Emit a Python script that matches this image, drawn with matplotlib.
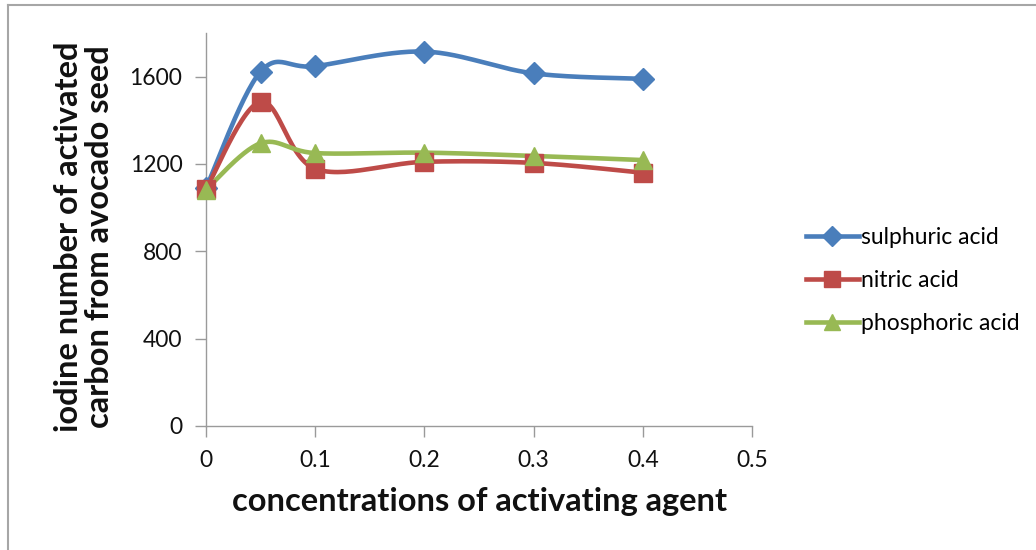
import numpy as np
import matplotlib
matplotlib.use("Agg")
import matplotlib.pyplot as plt
from matplotlib.lines import Line2D

# ---- data ----
concentration = [0, 0.05, 0.1, 0.2, 0.3, 0.4]
sulphuric = [1090, 1623, 1648, 1715, 1615, 1590]
nitric = [1085, 1485, 1178, 1210, 1205, 1160]
phosphoric = [1083, 1295, 1250, 1252, 1237, 1218]
series_names = ["sulphuric acid", "nitric acid", "phosphoric acid"]
x_ticks = [0, 0.1, 0.2, 0.3, 0.4, 0.5]
y_ticks = [0, 400, 800, 1200, 1600]
x_title = "concentrations of activating agent"
y_title = "iodine number of activated\ncarbon from avocado seed"

colors = ["#4A7EBB", "#BE4B48", "#98B954"]
markers = ["D", "s", "^"]
msizes = [11, 13, 13]

FONT = "Lato"
W, H = 1036, 550
fig = plt.figure(figsize=(W / 100, H / 100), dpi=100)
ax = fig.add_axes([206 / W, 1 - 426 / H, (752 - 206) / W, (426 - 33) / H])
ax.set_xlim(0, 0.5)
ax.set_ylim(0, 1800)


def smooth(xs, ys, xr=0.5, yr=1800, n=30):
    # Excel-like smoothed line (Catmull-Rom Bezier in normalized space)
    sx = 546.0 / xr
    sy = 393.0 / yr
    P = np.column_stack([np.asarray(xs) * sx, np.asarray(ys) * sy])
    out = [P[0]]
    m = len(P)
    t = np.linspace(0, 1, n)[1:, None]
    for i in range(m - 1):
        p0 = P[i - 1] if i > 0 else P[i]
        p1, p2 = P[i], P[i + 1]
        p3 = P[i + 2] if i + 2 < m else P[i + 1]
        c1 = p1 + (p2 - p0) / 6.0
        c2 = p2 - (p3 - p1) / 6.0
        seg = ((1 - t) ** 3) * p1 + 3 * ((1 - t) ** 2) * t * c1 + 3 * (1 - t) * t ** 2 * c2 + t ** 3 * p2
        out.extend(seg)
    out = np.array(out)
    return out[:, 0] / sx, out[:, 1] / sy


for ys, c, mk, ms in zip([sulphuric, nitric, phosphoric], colors, markers, msizes):
    sxv, syv = smooth(concentration, ys)
    ax.plot(sxv, syv, color=c, lw=3.3, solid_capstyle="round", zorder=2)
    ax.plot(concentration, ys, linestyle="none", marker=mk, color=c, ms=ms,
            markeredgecolor=c, zorder=3, clip_on=False)

ax.set_xticks(x_ticks)
ax.set_xticklabels([f"{v:g}" for v in x_ticks])
ax.set_yticks(y_ticks)
ax.set_yticklabels([str(v) for v in y_ticks])
for s in ["top", "right"]:
    ax.spines[s].set_visible(False)
for s in ["left", "bottom"]:
    ax.spines[s].set_color("#9A9A9A")
    ax.spines[s].set_linewidth(1.0)
ax.tick_params(axis="both", direction="out", length=8, width=1.0, color="#9A9A9A",
               labelsize=16.5, labelcolor="#111111")
ax.tick_params(axis="y", pad=9)
ax.tick_params(axis="x", pad=9)
for lab in ax.get_xticklabels() + ax.get_yticklabels():
    lab.set_fontfamily(FONT)

fig.text(480 / W, 1 - 502 / H, x_title, ha="center", va="center",
         fontsize=23.5, fontweight="bold", family=FONT, color="#111111")
fig.text(84 / W, 1 - 237 / H, y_title, ha="center", va="center", rotation=90,
         fontsize=23.5, fontweight="bold", family=FONT, color="#111111",
         linespacing=1.12, multialignment="center")

handles = [Line2D([0], [0], color=c, lw=3.3, marker=mk, ms=ms - 1, markeredgecolor=c)
           for c, mk, ms in zip(colors, markers, msizes)]
leg = fig.legend(handles, series_names, loc="upper left",
                 bbox_to_anchor=(790 / W, 1 - 211 / H), frameon=False,
                 prop={"family": FONT, "size": 16.5}, handlelength=2.3,
                 handletextpad=0.1, labelspacing=0.95, borderpad=0.2)

# outer chart border (partially cropped in the reference)
fig.add_artist(Line2D([8 / W, 1], [1 - 5 / H, 1 - 5 / H], transform=fig.transFigure,
                      color="#A6A6A6", lw=1.5))
fig.add_artist(Line2D([8 / W, 8 / W], [0, 1 - 5 / H], transform=fig.transFigure,
                      color="#A6A6A6", lw=1.5))

fig.savefig("out.png", dpi=100)
